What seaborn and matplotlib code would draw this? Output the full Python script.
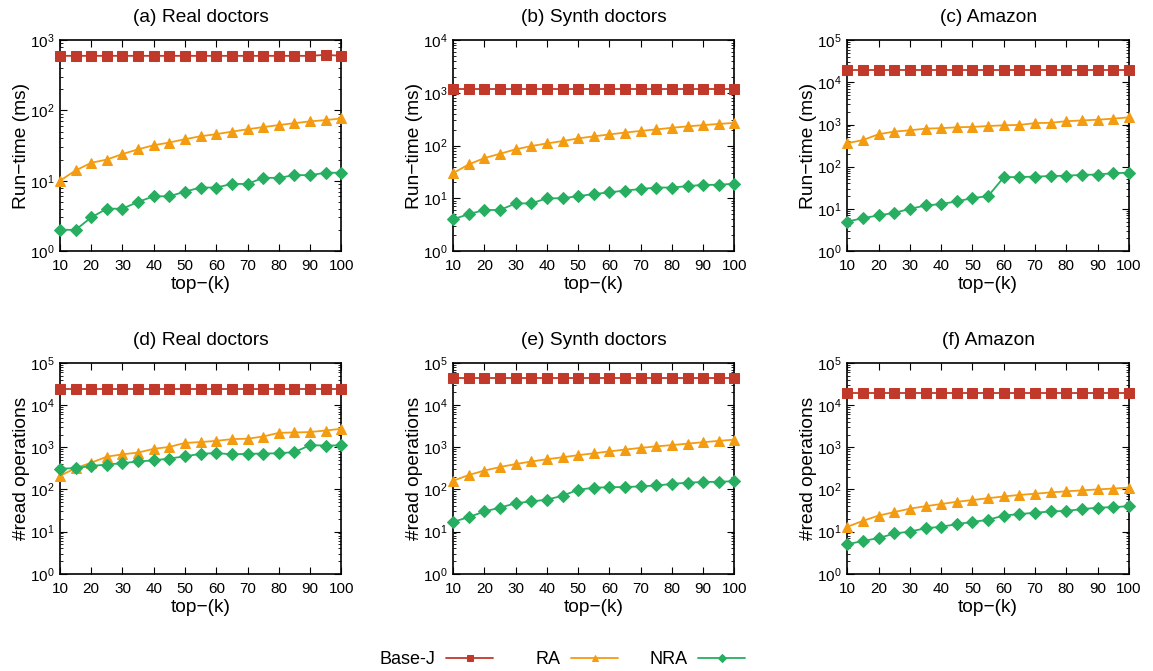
import numpy as np
import pandas as pd
import matplotlib
matplotlib.use("Agg")
import matplotlib.pyplot as plt
import matplotlib.ticker as mticker
import seaborn as sns

sns.set_style("ticks")
plt.rcParams["font.family"] = ["Liberation Sans", "DejaVu Sans"]
plt.rcParams["mathtext.fontset"] = "custom"
plt.rcParams["mathtext.rm"] = "Liberation Sans"
plt.rcParams["mathtext.it"] = "Liberation Sans:italic"
plt.rcParams["axes.unicode_minus"] = False
plt.rcParams["text.color"] = "black"
plt.rcParams["axes.labelcolor"] = "black"
plt.rcParams["xtick.color"] = "black"
plt.rcParams["ytick.color"] = "black"
plt.rcParams["axes.edgecolor"] = "black"

k = [10, 15, 20, 25, 30, 35, 40, 45, 50, 55, 60, 65, 70, 75, 80, 85, 90, 95, 100]
methods = ["Base-J", "RA", "NRA"]
titles = ["(a) Real doctors", "(b) Synth doctors", "(c) Amazon",
          "(d) Real doctors", "(e) Synth doctors", "(f) Amazon"]
ylabels = ["Run\u2212time (ms)"] * 3 + ["#read operations"] * 3
ytops = [1e3, 1e4, 1e5, 1e5, 1e5, 1e5]

# run-time (ms)
a_base = [600] * 17 + [620, 600]
a_ra = [10, 14, 18, 20, 24, 28, 32, 35, 39, 43, 46, 50, 54, 58, 62, 66, 70, 73, 77]
a_nra = [2, 2, 3, 4, 4, 5, 6, 6, 7, 8, 8, 9, 9, 11, 11, 12, 12, 13, 13]

b_base = [1200] * 19
b_ra = [30, 44, 58, 70, 85, 98, 110, 122, 137, 150, 163, 177, 190, 203, 218, 232, 245, 258, 270]
b_nra = [4, 5, 6, 6, 8, 8, 10, 10, 11, 12, 13, 14, 15, 16, 16, 17, 18, 18, 19]

c_base = [20000] * 19
c_ra = [360, 430, 590, 680, 730, 800, 820, 860, 880, 920, 960, 980, 1080, 1100, 1200, 1250, 1300, 1380, 1480]
c_nra = [5, 6, 7, 8, 10, 12, 13, 15, 18, 20, 56, 57, 58, 60, 61, 64, 65, 70, 72]

# read operations
d_base = [24000] * 19
d_ra = [210, 320, 430, 600, 680, 750, 920, 1020, 1270, 1330, 1420, 1560, 1600, 1800, 2200, 2250, 2300, 2500, 2750]
d_nra = [310, 320, 360, 390, 420, 460, 490, 540, 610, 700, 730, 680, 700, 710, 720, 770, 1120, 1100, 1110]

e_base = [45000] * 19
e_ra = [160, 220, 280, 340, 400, 460, 520, 580, 650, 720, 800, 880, 970, 1050, 1130, 1220, 1320, 1420, 1520]
e_nra = [17, 22, 30, 37, 47, 52, 57, 71, 98, 110, 113, 114, 118, 124, 135, 145, 150, 152, 157]

f_base = [19000] * 19
f_ra = [13, 18, 24, 29, 35, 40, 45, 51, 56, 62, 68, 74, 79, 85, 90, 95, 100, 105, 110]
f_nra = [5, 6, 7, 9, 10, 12, 13, 15, 17, 19, 24, 26, 28, 30, 31, 34, 37, 38, 40]

panels = [(a_base, a_ra, a_nra), (b_base, b_ra, b_nra), (c_base, c_ra, c_nra),
          (d_base, d_ra, d_nra), (e_base, e_ra, e_nra), (f_base, f_ra, f_nra)]

palette = {"Base-J": "#c0392b", "RA": "#f39c12", "NRA": "#27ae60"}
markers = {"Base-J": "s", "RA": "^", "NRA": "D"}
msizes = {"Base-J": 7, "RA": 7, "NRA": 6}

fig = plt.figure(figsize=(11.53, 6.71), dpi=100)
lefts = [0.052, 0.393, 0.735]
bottoms = [0.626, 0.145]
w, h = 0.244, 0.314

for i, (vals, title, ylab, ytop) in enumerate(zip(panels, titles, ylabels, ytops)):
    ax = fig.add_axes([lefts[i % 3], bottoms[i // 3], w, h])
    df = pd.DataFrame({
        "k": k * 3,
        "value": list(vals[0]) + list(vals[1]) + list(vals[2]),
        "method": ["Base-J"] * 19 + ["RA"] * 19 + ["NRA"] * 19,
    })
    for m in methods:
        sns.lineplot(data=df[df["method"] == m], x="k", y="value", ax=ax,
                     color=palette[m], marker=markers[m], markersize=msizes[m],
                     markeredgecolor=palette[m], linewidth=1.3, clip_on=False,
                     label=m, legend=False, zorder=3)
    ax.set_yscale("log")
    ax.set_xlim(10, 100)
    ax.set_ylim(1, ytop)
    ax.set_xticks(range(10, 101, 10))
    ax.yaxis.set_major_locator(mticker.LogLocator(base=10, numticks=10))
    ax.yaxis.set_minor_locator(mticker.LogLocator(base=10, subs=np.arange(2, 10), numticks=20))
    ax.yaxis.set_minor_formatter(mticker.NullFormatter())
    ax.tick_params(which="both", direction="in", top=True, right=True, labelsize=11)
    ax.tick_params(axis="x", which="major", pad=6)
    ax.tick_params(axis="y", which="major", pad=4)
    ax.tick_params(which="major", length=5, width=0.8)
    ax.tick_params(which="minor", length=2.5, width=0.6)
    for s in ax.spines.values():
        s.set_linewidth(1.2)
    ax.set_title(title, fontsize=13.8, pad=13)
    ax.set_xlabel("top\u2212(k)", fontsize=13.8, labelpad=2)
    ax.set_ylabel(ylab, fontsize=13.8, labelpad=0)

handles, labels = ax.get_legend_handles_labels()
# gnuplot-style key: label right-aligned before the sample, fixed column pitch
line_ends = [493, 618, 745]
for hd, lb, xe in zip(handles, labels, line_ends):
    fig.legend([hd], [lb], loc="center right", bbox_to_anchor=(xe / 1153, 1 - 660 / 671),
               frameon=False, markerfirst=False, fontsize=13, handlelength=2.6,
               handletextpad=0.6, borderpad=0, borderaxespad=0, markerscale=0.65)

fig.savefig("out.png", dpi=100)
